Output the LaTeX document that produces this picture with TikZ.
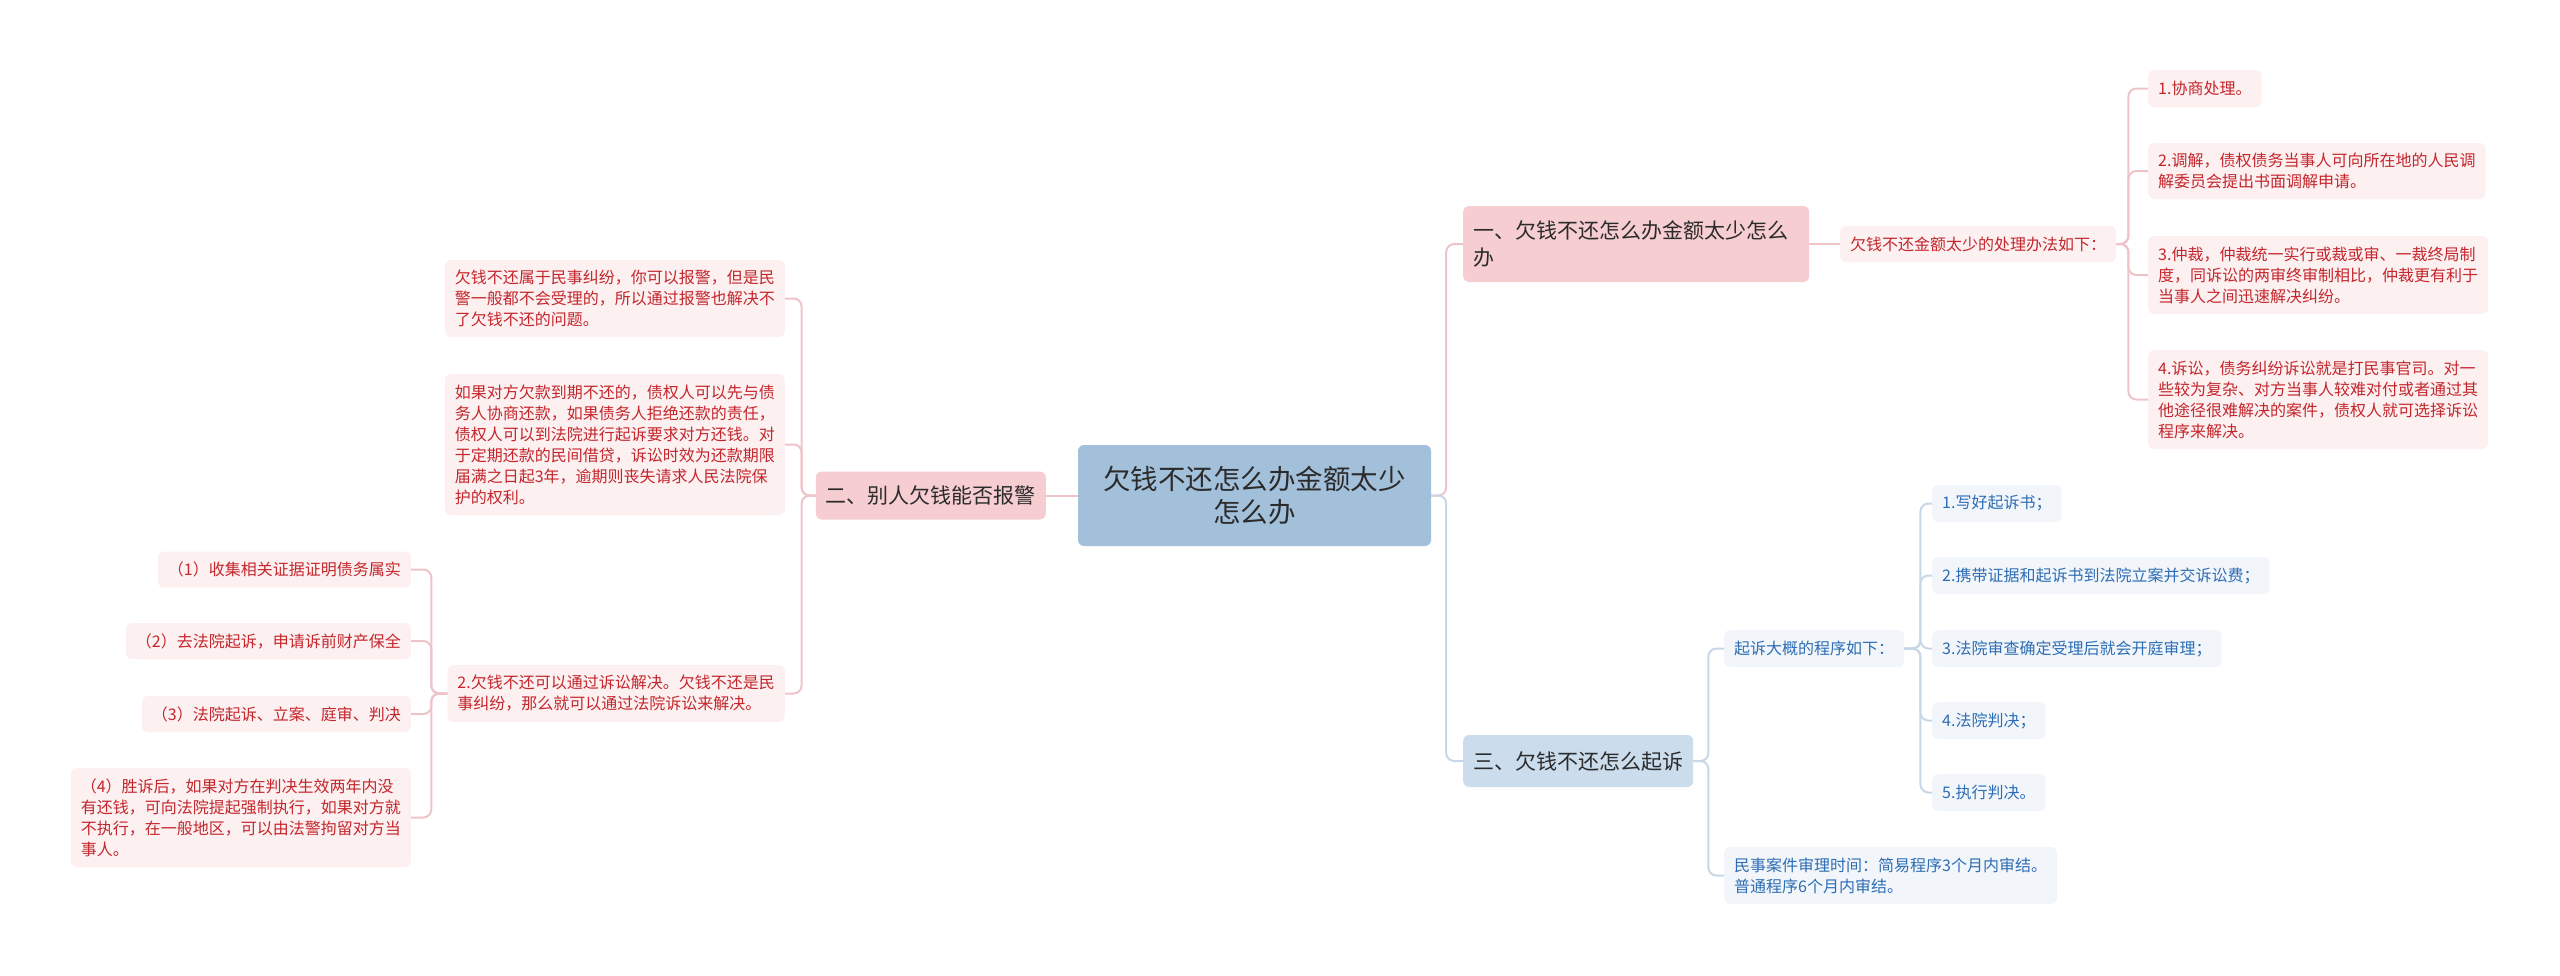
\documentclass[tikz,border=0pt]{standalone}
\usepackage{fontspec}
\setmainfont{Noto Sans CJK SC}
\definecolor{ctrFill}{HTML}{A3C0DB}
\definecolor{pkFill}{HTML}{F6CDD0}
\definecolor{blFill}{HTML}{CBDCEC}
\definecolor{pkItemFill}{HTML}{FCF0F1}
\definecolor{blItemFill}{HTML}{F2F6FB}
\definecolor{pkText}{HTML}{C4262C}
\definecolor{blText}{HTML}{2D6DB4}
\definecolor{pkLine}{HTML}{EDC4C8}
\definecolor{blLine}{HTML}{C8D7E7}
\definecolor{darkText}{HTML}{2B2B2B}
\tikzset{
  ctrbox/.style={fill=ctrFill, text=darkText, rounded corners=6pt, align=center,
    inner sep=0pt, minimum width=353pt, minimum height=101pt,
    font=\fontsize{27.5}{33}\selectfont},
  pkbranch/.style={fill=pkFill, text=darkText, rounded corners=6pt, inner xsep=10pt,
    inner ysep=0pt, align=left, font=\fontsize{21}{27}\selectfont},
  blbranch/.style={pkbranch, fill=blFill},
  pkitem/.style={fill=pkItemFill, text=pkText, rounded corners=6pt, inner xsep=10pt,
    inner ysep=0pt, align=left, font=\fontsize{16}{21}\selectfont},
  blitem/.style={pkitem, fill=blItemFill, text=blText},
  pkln/.style={draw=pkLine, line width=2pt, rounded corners=8pt},
  blln/.style={pkln, draw=blLine},
  ht/.style={minimum height=#1pt}
}
\begin{document}
\begin{tikzpicture}[x=1pt, y=-1pt]
    \useasboundingbox (0,0) rectangle (2560,975);
    % centre
    \node[ctrbox] (ctr) at (1254.5,495.5) {欠钱不还怎么办金额太少\\怎么办};
    % branch one
    \node[pkbranch, text width=326pt, ht=76, anchor=west] (one) at (1463,244) {一、欠钱不还怎么办金额太少怎么\\办};
    \node[pkitem, ht=36, anchor=west] (howto) at (1840,244) {欠钱不还金额太少的处理办法如下：};
    \node[pkitem, ht=37, anchor=west] (way1) at (2148,88.5) {1.协商处理。};
    \node[pkitem, ht=56, anchor=west] (way2) at (2148,171) {2.调解，债权债务当事人可向所在地的人民调\\解委员会提出书面调解申请。};
    \node[pkitem, ht=78, anchor=west] (way3) at (2148,275) {3.仲裁，仲裁统一实行或裁或审、一裁终局制\\度，同诉讼的两审终审制相比，仲裁更有利于\\当事人之间迅速解决纠纷。};
    \node[pkitem, ht=99, anchor=west] (way4) at (2148,399.5) {4.诉讼，债务纠纷诉讼就是打民事官司。对一\\些较为复杂、对方当事人较难对付或者通过其\\他途径很难解决的案件，债权人就可选择诉讼\\程序来解决。};
    % branch two
    \node[pkbranch, ht=48, anchor=east] (two) at (1046,495.5) {二、别人欠钱能否报警};
    \node[pkitem, ht=77, anchor=east] (police) at (785,298.5) {欠钱不还属于民事纠纷，你可以报警，但是民\\警一般都不会受理的，所以通过报警也解决不\\了欠钱不还的问题。};
    \node[pkitem, ht=141, anchor=east] (consult) at (785,444.5) {如果对方欠款到期不还的，债权人可以先与债\\务人协商还款，如果债务人拒绝还款的责任，\\债权人可以到法院进行起诉要求对方还钱。对\\于定期还款的民间借贷，诉讼时效为还款期限\\届满之日起3年，逾期则丧失请求人民法院保\\护的权利。};
    \node[pkitem, ht=57, anchor=east] (sue) at (785,693.5) {2.欠钱不还可以通过诉讼解决。欠钱不还是民\\事纠纷，那么就可以通过法院诉讼来解决。};
    \node[pkitem, ht=36, anchor=east] (stepa) at (411,569.5) {（1）收集相关证据证明债务属实};
    \node[pkitem, ht=36, anchor=east] (stepb) at (411,641) {（2）去法院起诉，申请诉前财产保全};
    \node[pkitem, ht=36, anchor=east] (stepc) at (411,714) {（3）法院起诉、立案、庭审、判决};
    \node[pkitem, ht=99, anchor=east] (stepd) at (411,817.5) {（4）胜诉后，如果对方在判决生效两年内没\\有还钱，可向法院提起强制执行，如果对方就\\不执行，在一般地区，可以由法警拘留对方当\\事人。};
    % branch three
    \node[blbranch, ht=52, anchor=west] (three) at (1463,761) {三、欠钱不还怎么起诉};
    \node[blitem, ht=37, anchor=west] (proc) at (1724,648.5) {起诉大概的程序如下：};
    \node[blitem, ht=37, anchor=west] (proc1) at (1932,503.5) {1.写好起诉书；};
    \node[blitem, ht=37, anchor=west] (proc2) at (1932,575.5) {2.携带证据和起诉书到法院立案并交诉讼费；};
    \node[blitem, ht=37, anchor=west] (proc3) at (1932,648.5) {3.法院审查确定受理后就会开庭审理；};
    \node[blitem, ht=37, anchor=west] (proc4) at (1932,720.5) {4.法院判决；};
    \node[blitem, ht=37, anchor=west] (proc5) at (1932,792.5) {5.执行判决。};
    \node[blitem, ht=57, anchor=west] (time) at (1724,875.5) {民事案件审理时间：简易程序3个月内审结。\\普通程序6个月内审结。};
    % connectors
    \draw[pkln] (ctr.west) -- (two.east);
    \draw[pkln] (ctr.east) -- ++(15,0) |- (one.west);
    \draw[blln] (ctr.east) -- ++(15,0) |- (three.west);
    \draw[pkln] (one.east) -- (howto.west);
    \foreach \w in {way1,way2,way3,way4}
        \draw[pkln] (howto.east) -- ++(12,0) |- (\w.west);
    \foreach \w in {police,consult,sue}
        \draw[pkln] (two.west) -- ++(-14,0) |- (\w.east);
    \foreach \w in {stepa,stepb,stepc,stepd}
        \draw[pkln] (sue.west) -- ++(-16,0) |- (\w.east);
    \foreach \w in {proc,time}
        \draw[blln] (three.east) -- ++(15,0) |- (\w.west);
    \foreach \w in {proc1,proc2,proc3,proc4,proc5}
        \draw[blln] (proc.east) -- ++(16,0) |- (\w.west);
\end{tikzpicture}
\end{document}
